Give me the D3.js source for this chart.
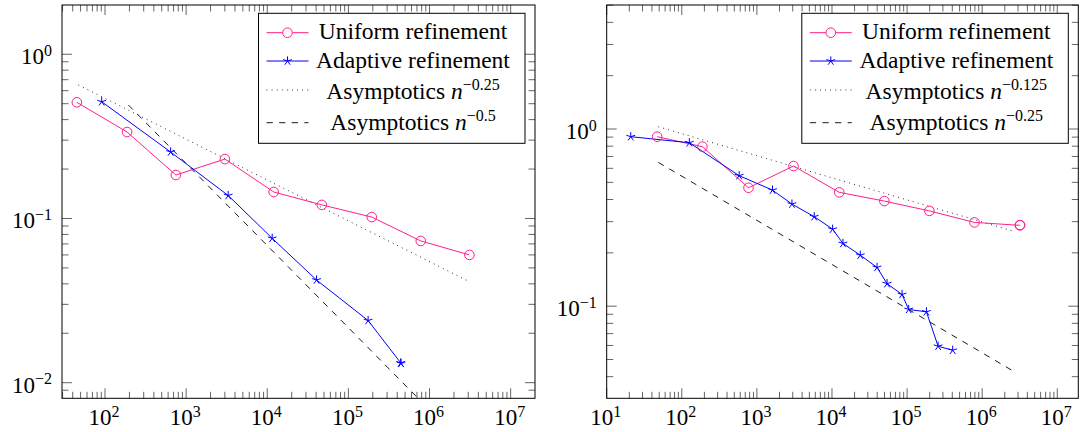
<!DOCTYPE html>
<html>
<head>
<meta charset="utf-8">
<script src="https://cdn.jsdelivr.net/npm/d3@7"></script>
<style>
  body { margin: 0; background: #fff; }
  svg text { font-family: "Liberation Serif", "Times New Roman", Times, serif; }
</style>
</head>
<body>
<svg id="chart" width="1083" height="432" font-family="'Liberation Serif', 'Times New Roman', Times, serif"></svg>
<script>
// ---- data ----
// left panel
const leftUniformN   = [45, 187, 748, 3007, 12000, 47000, 194000, 780000, 3.1e6];
const leftUniformErr = [0.51, 0.336, 0.184, 0.23, 0.145, 0.121, 0.102, 0.073, 0.06];
const leftAdaptiveN   = [91, 644, 3300, 11500, 40500, 175000, 442000, 445000];
const leftAdaptiveErr = [0.514, 0.254, 0.138, 0.0757, 0.0422, 0.0239, 0.0132, 0.0131];
const leftDottedN   = [47, 3.1e6];
const leftDottedErr = [0.65, 0.0412];
const leftDashedN   = [194, 1e6];
const leftDashedErr = [0.491, 0.00684];
const leftRates = ["\u22120.25", "\u22120.5"];
const leftXTickExps = [2, 3, 4, 5, 6, 7];
const leftYTickExps = [0, -1, -2];

// right panel
const rightUniformN   = [47, 188, 773, 3075, 12500, 49800, 198000, 789000, 3.17e6, 3.2e6];
const rightUniformErr = [0.905, 0.795, 0.466, 0.618, 0.439, 0.392, 0.345, 0.297, 0.286, 0.287];
const rightAdaptiveN   = [20.9, 126, 581, 1614, 2930, 5800, 10200, 14000, 23800, 39800, 54100, 85700, 105000, 181000, 259000, 405000];
const rightAdaptiveErr = [0.905, 0.837, 0.545, 0.452, 0.377, 0.32, 0.272, 0.226, 0.194, 0.1655, 0.134, 0.1164, 0.0958, 0.0929, 0.0594, 0.0564];
const rightDottedN   = [48.7, 2.78e6];
const rightDottedErr = [1.03, 0.263];
const rightDashedN   = [48.7, 2.8e6];
const rightDashedErr = [0.648, 0.0422];
const rightRates = ["\u22120.125", "\u22120.25"];
const rightXTickExps = [1, 2, 3, 4, 5, 6, 7];
const rightYTickExps = [0, -1];

const legendNames = ["Uniform refinement", "Adaptive refinement", "Asymptotics "];

const PINK = "#ff1f8c", BLUE = "#0000ff";

const svg = d3.select("#chart");

const panels = [
  { x0: 62, x1: 535, xdom: [Math.pow(10, 1.47), Math.pow(10, 7.30)], ydom: [Math.pow(10, 0.30), Math.pow(10, -2.095)],
    uni: [leftUniformN, leftUniformErr], ada: [leftAdaptiveN, leftAdaptiveErr],
    dot: [leftDottedN, leftDottedErr], dash: [leftDashedN, leftDashedErr],
    rates: leftRates, xt: leftXTickExps, yt: leftYTickExps },
  { x0: 606.7, x1: 1078.3, xdom: [10, Math.pow(10, 7.28)], ydom: [Math.pow(10, 0.70), Math.pow(10, -1.52)],
    uni: [rightUniformN, rightUniformErr], ada: [rightAdaptiveN, rightAdaptiveErr],
    dot: [rightDottedN, rightDottedErr], dash: [rightDashedN, rightDashedErr],
    rates: rightRates, xt: rightXTickExps, yt: rightYTickExps }
];
const Y0 = 5, Y1 = 398.3;

function minorTicks(dom) {
  const lo = Math.min(dom[0], dom[1]), hi = Math.max(dom[0], dom[1]);
  const out = [];
  for (let e = Math.floor(Math.log10(lo)); e <= Math.ceil(Math.log10(hi)); e++) {
    for (let m = 1; m <= 9; m++) {
      const v = m * Math.pow(10, e);
      if (v >= lo * 0.999 && v <= hi * 1.001) out.push({ v: v, major: m === 1 });
    }
  }
  return out;
}

function powLabel(sel, exp) {
  sel.append("tspan").text("10");
  sel.append("tspan").attr("dy", -8.5).attr("font-size", 16).text(exp < 0 ? "\u2212" + (-exp) : exp);
}

const starPath = (() => {
  const r = 4.6;
  let p = "";
  for (let k = 0; k < 5; k++) {
    const a = -Math.PI / 2 + k * 2 * Math.PI / 5;
    p += "M0,0L" + (r * Math.cos(a)).toFixed(2) + "," + (r * Math.sin(a)).toFixed(2);
  }
  return p;
})();

panels.forEach((P, pi) => {
  const x = d3.scaleLog().domain(P.xdom).range([P.x0, P.x1]);
  const y = d3.scaleLog().domain(P.ydom).range([Y0, Y1]);
  const g = svg.append("g");

  g.append("clipPath").attr("id", "clip" + pi)
    .append("rect").attr("x", P.x0).attr("y", Y0).attr("width", P.x1 - P.x0).attr("height", Y1 - Y0);

  // ticks, drawn inward on all four sides
  const tk = g.append("g").attr("stroke", "#555").attr("stroke-width", 0.9);
  minorTicks(P.xdom).forEach(t => {
    const px = x(t.v), L = t.major ? 10 : 6.5;
    tk.append("line").attr("x1", px).attr("x2", px).attr("y1", Y1).attr("y2", Y1 - L);
    tk.append("line").attr("x1", px).attr("x2", px).attr("y1", Y0).attr("y2", Y0 + L);
  });
  minorTicks(P.ydom).forEach(t => {
    const py = y(t.v), L = t.major ? 10 : 6.5;
    tk.append("line").attr("y1", py).attr("y2", py).attr("x1", P.x0).attr("x2", P.x0 + L);
    tk.append("line").attr("y1", py).attr("y2", py).attr("x1", P.x1).attr("x2", P.x1 - L);
  });

  // tick labels
  P.xt.forEach(e => {
    powLabel(g.append("text").attr("x", x(Math.pow(10, e)) - 1).attr("y", 425)
      .attr("text-anchor", "middle").attr("font-size", 23), e);
  });
  P.yt.forEach(e => {
    powLabel(g.append("text").attr("x", P.x0 - 10).attr("y", y(Math.pow(10, e)) + 10)
      .attr("text-anchor", "end").attr("font-size", 23), e);
  });

  const line = d3.line().x(d => x(d[0])).y(d => y(d[1]));
  const zip = s => s[0].map((v, i) => [v, s[1][i]]);
  const plot = g.append("g").attr("clip-path", "url(#clip" + pi + ")");

  plot.append("path").attr("d", line(zip(P.dot))).attr("fill", "none")
    .attr("stroke", "#000").attr("stroke-width", 0.9).attr("stroke-dasharray", "0.9 4.2");
  plot.append("path").attr("d", line(zip(P.dash))).attr("fill", "none")
    .attr("stroke", "#000").attr("stroke-width", 0.9).attr("stroke-dasharray", "6.3 6.3");
  plot.append("path").attr("d", line(zip(P.uni))).attr("fill", "none")
    .attr("stroke", PINK).attr("stroke-width", 1);
  plot.append("path").attr("d", line(zip(P.ada))).attr("fill", "none")
    .attr("stroke", BLUE).attr("stroke-width", 1);

  g.selectAll(null).data(zip(P.uni)).enter().append("circle")
    .attr("cx", d => x(d[0])).attr("cy", d => y(d[1])).attr("r", 4.8)
    .attr("fill", "none").attr("stroke", PINK).attr("stroke-width", 1);
  g.selectAll(null).data(zip(P.ada)).enter().append("path")
    .attr("transform", d => "translate(" + x(d[0]) + "," + y(d[1]) + ")")
    .attr("d", starPath).attr("fill", "none").attr("stroke", BLUE).attr("stroke-width", 1);

  // axis frame
  g.append("rect").attr("x", P.x0).attr("y", Y0).attr("width", P.x1 - P.x0).attr("height", Y1 - Y0)
    .attr("fill", "none").attr("stroke", "#000").attr("stroke-width", 1);

  // legend
  const bx = P.x1 - 10 - 266.5, by = 13.3;
  const lg = g.append("g");
  lg.append("rect").attr("x", bx).attr("y", by).attr("width", 266.5).attr("height", 130)
    .attr("fill", "#fff").attr("stroke", "#000").attr("stroke-width", 1);
  const rowY = [19.4, 47.7, 76.7, 109.4], baseY = [26, 54.4, 86, 116.7];
  const styles = [
    { c: PINK, dash: null, mark: "circle" },
    { c: BLUE, dash: null, mark: "star" },
    { c: "#000", dash: "0.9 4.2", mark: null },
    { c: "#000", dash: "6.3 6.3", mark: null }
  ];
  styles.forEach((s, i) => {
    const ly = by + rowY[i];
    lg.append("line").attr("x1", bx + 8).attr("x2", bx + 50).attr("y1", ly).attr("y2", ly)
      .attr("stroke", s.c).attr("stroke-width", s.mark ? 1 : 0.9).attr("stroke-dasharray", s.dash);
    if (s.mark === "circle") {
      lg.append("circle").attr("cx", bx + 29).attr("cy", ly).attr("r", 4.8)
        .attr("fill", "#fff").attr("stroke", s.c).attr("stroke-width", 1);
    } else if (s.mark === "star") {
      lg.append("path").attr("transform", "translate(" + (bx + 29) + "," + ly + ")")
        .attr("d", starPath).attr("fill", "none").attr("stroke", s.c).attr("stroke-width", 1);
    }
    const t = lg.append("text").attr("x", bx + 154.5).attr("y", by + baseY[i])
      .attr("text-anchor", "middle").attr("font-size", 23.5);
    if (i < 2) {
      t.text(legendNames[i]);
    } else {
      t.append("tspan").text(legendNames[2]);
      t.append("tspan").attr("font-style", "italic").text("n");
      t.append("tspan").attr("dy", -9).attr("font-size", 16).text(P.rates[i - 2]);
    }
  });
});
</script>
</body>
</html>
